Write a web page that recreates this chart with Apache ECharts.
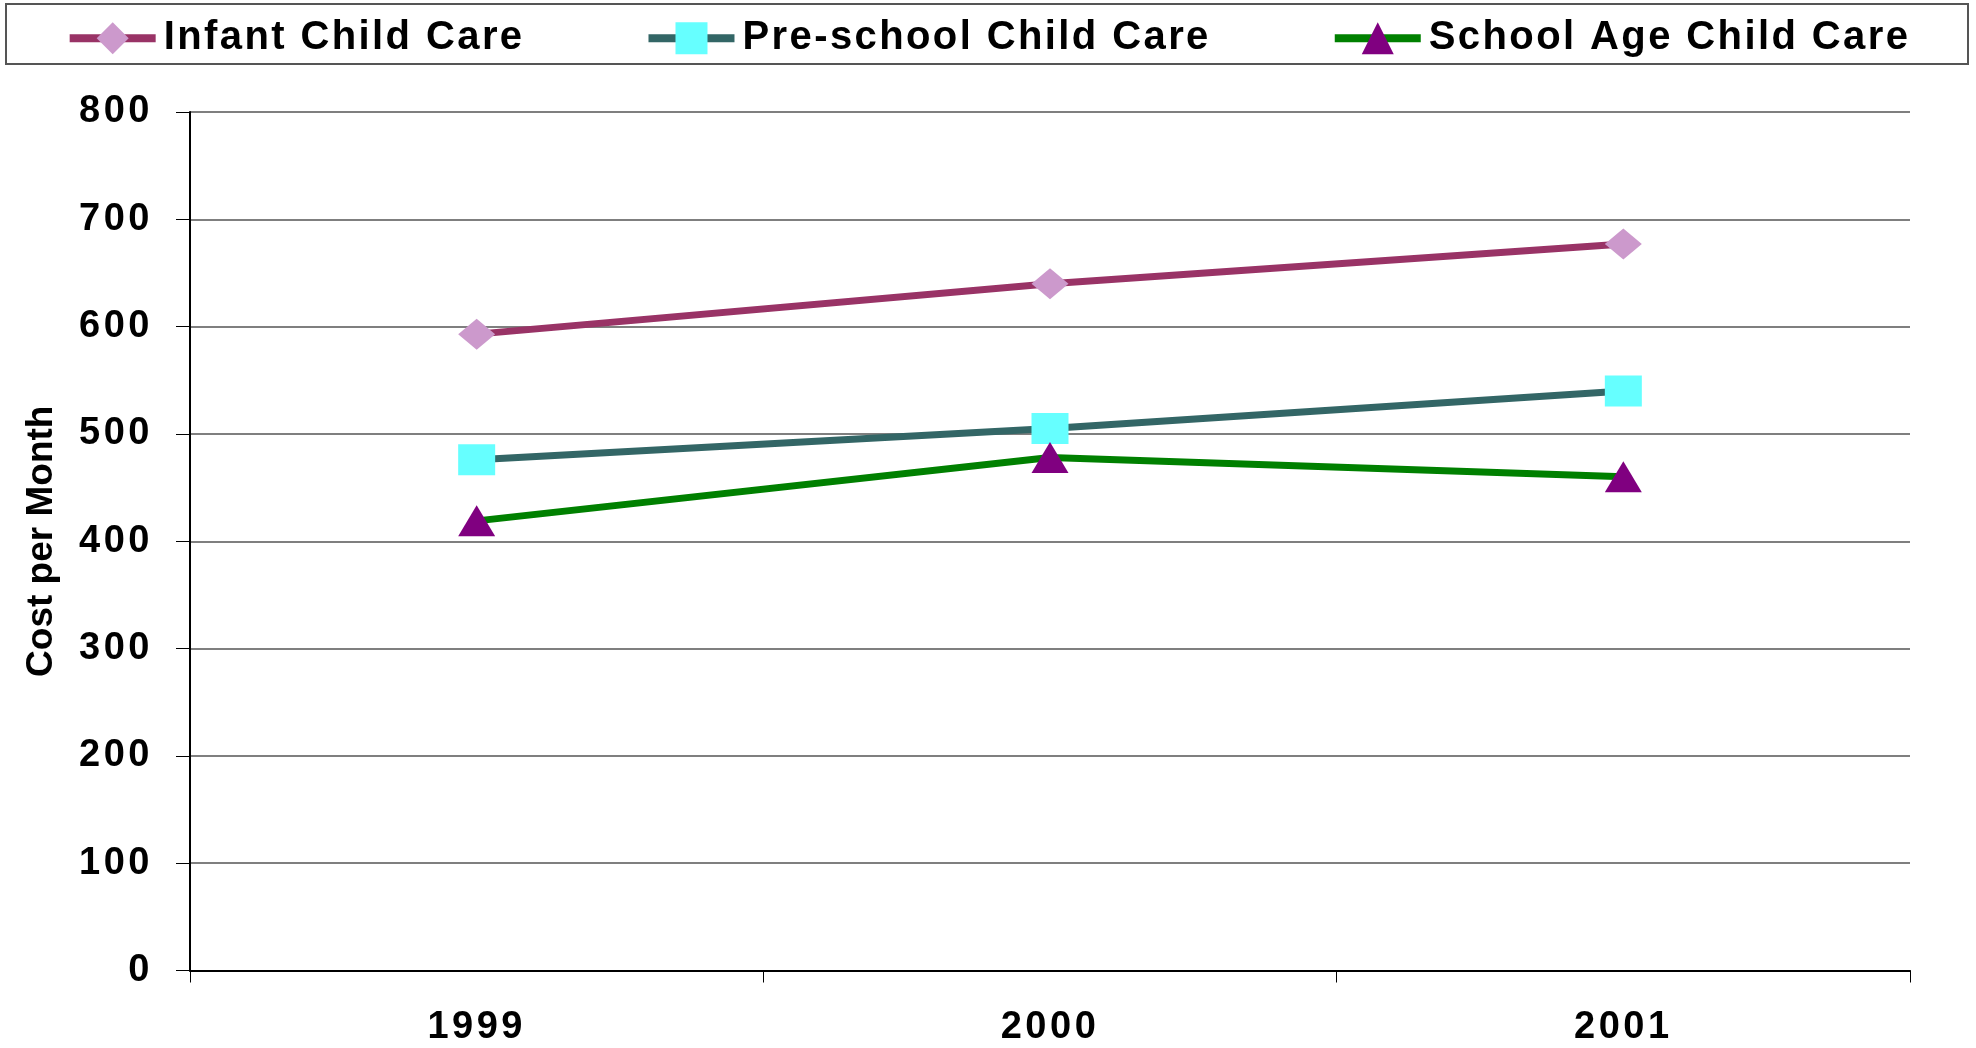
<!DOCTYPE html>
<html>
<head>
<meta charset="utf-8">
<script src="https://cdn.jsdelivr.net/npm/echarts@6/dist/echarts.min.js"></script>
<style>
html,body{margin:0;padding:0;background:#fff;}
#chart{width:1976px;height:1048px;}
</style>
</head>
<body>
<div id="chart"></div>
<script>
// Data
const years = ['1999', '2000', '2001'];
const infantCare = [593, 640, 677];
const preschoolCare = [476, 505, 540];
const schoolAgeCare = [419, 478, 460];
const seriesNames = ['Infant Child Care', 'Pre-school Child Care', 'School Age Child Care'];

// letter spacing helper for spaced (Excel-like) texts
(function () {
  var P = CanvasRenderingContext2D.prototype;
  var d = Object.getOwnPropertyDescriptor(P, 'font');
  if (!d || !('letterSpacing' in P)) return;
  Object.defineProperty(P, 'font', {
    configurable: true,
    enumerable: d.enumerable,
    get: function () { return d.get.call(this); },
    set: function (v) {
      d.set.call(this, v);
      var s = '0px';
      if (/sans-serif/.test(v)) s = '2.4px';
      else if (/Arial/.test(v)) s = '3.5px';
      this.letterSpacing = s;
    }
  });
})();

const chart = echarts.init(document.getElementById('chart'), null, {renderer: 'canvas'});
const labelFont = "'Liberation Sans', Arial";
const legendFont = "'Liberation Sans', sans-serif";

chart.setOption({
  animation: false,
  backgroundColor: '#ffffff',
  graphic: [{
    type: 'rect',
    shape: {x: 6, y: 4, width: 1962, height: 60},
    style: {fill: 'none', stroke: '#555', lineWidth: 2},
    z: -1
  }],
  legend: {
    top: 12,
    left: 'center',
    itemWidth: 86,
    itemHeight: 40,
    itemGap: 120,
    lineStyle: {width: 8},
    textStyle: {fontFamily: legendFont, fontWeight: 'bold', fontSize: 40, color: '#000', padding: [0, 0, 0, 3]},
    data: seriesNames
  },
  grid: {left: 190, right: 66, top: 112, bottom: 73, containLabel: false},
  xAxis: {
    type: 'category',
    data: years,
    boundaryGap: true,
    axisLine: {lineStyle: {color: '#000', width: 2}},
    axisTick: {show: true, length: 12, alignWithLabel: false, lineStyle: {color: '#000', width: 1}},
    axisLabel: {fontFamily: labelFont, fontWeight: 'bold', fontSize: 38, color: '#000', margin: 36},
    splitLine: {show: false}
  },
  yAxis: {
    type: 'value',
    min: 0, max: 800, interval: 100,
    name: 'Cost per Month',
    nameLocation: 'middle',
    nameGap: 130,
    nameTextStyle: {fontFamily: "'Liberation Sans'", fontWeight: 'bold', fontSize: 37, color: '#000'},
    axisLine: {show: true, lineStyle: {color: '#000', width: 2}},
    axisTick: {show: true, length: 14, lineStyle: {color: '#000', width: 1}},
    axisLabel: {fontFamily: labelFont, fontWeight: 'bold', fontSize: 38, color: '#000', margin: 37},
    splitLine: {show: true, lineStyle: {color: '#555', width: 1.5}}
  },
  series: [
    {
      name: seriesNames[0], type: 'line', data: infantCare,
      symbol: 'diamond', symbolSize: [37, 31],
      lineStyle: {color: '#993366', width: 7},
      itemStyle: {color: '#CC99CC'}, z: 3
    },
    {
      name: seriesNames[1], type: 'line', data: preschoolCare,
      symbol: 'rect', symbolSize: [37, 31],
      lineStyle: {color: '#336666', width: 7},
      itemStyle: {color: '#66FFFF'}, z: 3
    },
    {
      name: seriesNames[2], type: 'line', data: schoolAgeCare,
      symbol: 'triangle', symbolSize: [37, 31],
      lineStyle: {color: '#008000', width: 7},
      itemStyle: {color: '#800080'}, z: 4
    }
  ]
});
</script>
</body>
</html>
